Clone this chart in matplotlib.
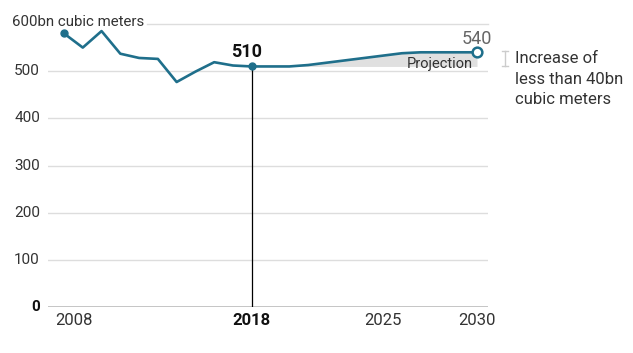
import numpy as np
import matplotlib.pyplot as plt

plt.rcParams['font.family'] = ['Roboto', 'DejaVu Sans']

# historical consumption (bn cubic meters)
hist_years = [2008, 2009, 2010, 2011, 2012, 2013, 2014, 2015, 2016, 2017, 2018]
hist_vals = [580, 550, 585, 537, 528, 526, 477, 499, 519, 512, 510]

# projection
proj_years = [2018, 2019, 2020, 2021, 2022, 2023, 2024, 2025, 2026, 2027, 2028, 2029, 2030]
proj_vals = [510, 510, 510, 513, 518, 523, 528, 533, 538, 540, 540, 540, 540]

y_ticks = [0, 100, 200, 300, 400, 500, 600]
x_ticks = [2008, 2018, 2025, 2030]

line_col = '#1f6f8b'
px = 18.77  # pixels per year
fig = plt.figure(figsize=(6.33, 3.53), dpi=100)
ax = fig.add_axes([48 / 633, 46 / 353, 440 / 633, 283 / 353])
ax.set_xlim(2008 - 16 / px, 2030 + 11 / px)
ax.set_ylim(0, 600)

# gridlines
for v in y_ticks:
    if v == 0:
        ax.axhline(v, color='#bbbbbb', lw=1.2, zorder=1)
    elif v == 600:
        ax.plot([2008 + 83 / px, ax.get_xlim()[1]], [v, v], color='#dddddd', lw=1, zorder=1, clip_on=False)
    else:
        ax.axhline(v, color='#dddddd', lw=1, zorder=1)

ax.fill_between(proj_years, 510, proj_vals, color='#e0e0e0', lw=0, zorder=2)
ax.plot(hist_years, hist_vals, color=line_col, lw=1.9, zorder=3)
ax.plot(proj_years, proj_vals, color=line_col, lw=1.9, zorder=3)

ax.plot([2018, 2018], [0, 510], color='black', lw=0.9, zorder=2)
ax.plot(2008, hist_vals[0], 'o', color=line_col, ms=5, zorder=4, clip_on=False)
ax.plot(2018, 510, 'o', color=line_col, ms=5, zorder=4)
ax.plot(2030, proj_vals[-1], 'o', mfc='white', mec=line_col, mew=1.8, ms=7, zorder=5, clip_on=False)

ax.text(2018 - 0.3, 522, '510', ha='center', va='bottom', fontsize=13, fontweight='bold', color='#111111')
ax.text(2030, 550, '540', ha='center', va='bottom', fontsize=13, color='#666666')
ax.text(2029.8, 516, 'Projection', ha='right', va='center', fontsize=10.5, color='#333333')

# y tick labels
for v in y_ticks:
    if v == 600:
        ax.text(2008 - 52 / px, 604, '600bn cubic meters', ha='left', va='center',
                fontsize=10.8, color='#333333')
    else:
        ax.text(2008 - 24 / px, v, str(v), ha='right', va='center', fontsize=11,
                color='#111111' if v == 0 else '#333333', fontweight='bold' if v == 0 else 'normal')

# x tick labels
ax.set_xticks([])
ax.set_yticks([])
for yr in x_ticks:
    ha = 'left' if yr == 2008 else 'center'
    xx = yr - 9 / px if yr == 2008 else yr
    ax.text(xx, -12, str(yr), ha=ha, va='top', fontsize=12,
            fontweight='bold' if yr == 2018 else 'normal', color='#111111' if yr == 2018 else '#333333')

# range bracket and note
bx = 2030 + 28 / px
ax.plot([bx, bx], [512, 542], color='#cccccc', lw=1, clip_on=False)
ax.plot([bx - 0.15, bx + 0.15], [542, 542], color='#cccccc', lw=1, clip_on=False)
ax.plot([bx - 0.15, bx + 0.15], [512, 512], color='#cccccc', lw=1, clip_on=False)
ax.text(2030 + 38 / px, 542, 'Increase of\nless than 40bn\ncubic meters', ha='left', va='top',
        fontsize=12, color='#333333', linespacing=1.45)

for s in ax.spines.values():
    s.set_visible(False)

fig.savefig('out.png', dpi=100)
